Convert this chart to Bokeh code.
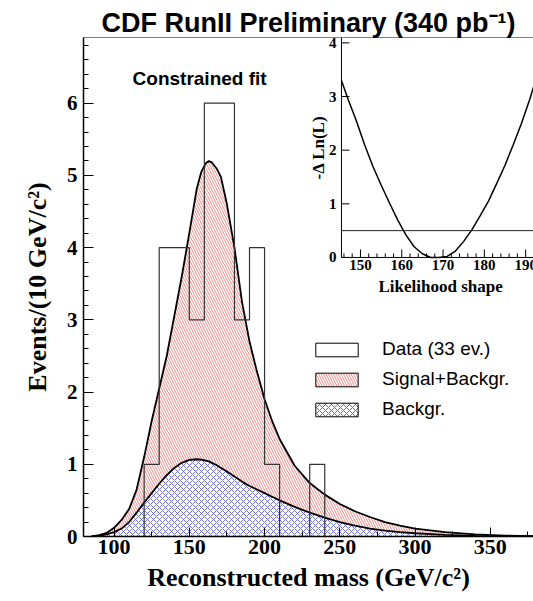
import math
from bokeh.plotting import figure
from bokeh.models import (Range1d, SingleIntervalTicker, Span, Label, Legend,
                          LegendItem)
from bokeh.embed import file_html
from bokeh.resources import INLINE

# ---------------- data ----------------
bin_edges = [120, 130, 140, 150, 160, 170, 180, 190, 200, 210, 220, 230, 240]
data_counts = [1, 4, 4, 3, 6, 6, 3, 4, 1, 0, 0, 1]

mass = [85, 90, 95, 100, 105, 110, 115, 120, 125, 130, 135, 140, 145, 150, 155,
        158, 161, 163, 165, 168, 171, 175, 180, 185, 190, 195, 200, 205, 210,
        220, 230, 240, 250, 260, 270, 280, 290, 300, 320, 340, 360, 380]
sig_bkg = [0.0, 0.02, 0.05, 0.12, 0.23, 0.38, 0.65, 1.1, 1.6, 2.05, 2.5, 3.05,
           3.6, 4.2, 4.82, 5.05, 5.17, 5.2, 5.18, 5.1, 4.98, 4.6, 4.0, 3.25,
           2.7, 2.28, 1.9, 1.6, 1.35, 0.98, 0.74, 0.58, 0.45, 0.35, 0.27, 0.2,
           0.15, 0.11, 0.06, 0.03, 0.012, 0.004]
bkg = [0.0, 0.01, 0.03, 0.06, 0.11, 0.2, 0.33, 0.47, 0.6, 0.73, 0.85, 0.95,
       1.02, 1.06, 1.07, 1.065, 1.05, 1.04, 1.02, 0.99, 0.95, 0.9, 0.83, 0.76,
       0.7, 0.65, 0.6, 0.55, 0.5, 0.41, 0.33, 0.26, 0.2, 0.15, 0.11, 0.08,
       0.06, 0.045, 0.022, 0.01, 0.004, 0.002]

lik_mass = [145.4, 147, 149, 151, 153, 155, 157, 159, 161, 163, 165, 167, 169,
            171, 173, 175, 177, 179, 181, 183, 185, 187, 189, 191, 192]
lik_dlnl = [3.3, 2.95, 2.55, 2.1, 1.7, 1.35, 1.02, 0.7, 0.42, 0.2, 0.07, 0.0,
            0.0, 0.02, 0.12, 0.3, 0.52, 0.78, 1.05, 1.38, 1.72, 2.1, 2.5,
            2.95, 3.2]
lik_level = 0.5
lik_xticks = [150, 160, 170, 180, 190]
lik_xminor = [146, 148, 152, 154, 156, 158, 162, 164, 166, 168, 172, 174, 176,
              178, 182, 184, 186, 188]
lik_yticks = [0, 1, 2, 3, 4]

SERIF = "Liberation Serif"
SANS = "Liberation Sans"
XMIN, XMAX = 79.7, 378.7
YMAX = 6.91
# inset ranges (own units) and where they sit in the main plot's units
LX0, LX1, LY0, LY1 = 145.4, 191.9, 0.0, 4.1
TX0, TX1, TY0, TY1 = 251.1, 378.7, 3.864, 6.91

PINK = "#ee8a8a"
BLUE = "#6464e0"

# ---------------- main figure ----------------
p = figure(width=533, height=601, x_range=Range1d(XMIN, XMAX),
           y_range=Range1d(0, YMAX), output_backend="svg",
           toolbar_location=None, min_border_left=83, min_border_right=0,
           min_border_top=37, min_border_bottom=65)
p.grid.visible = False
p.outline_line_color = None
p.background_fill_color = "white"
p.border_fill_color = "white"

p.title.text = "CDF RunII Preliminary (340 pb⁻¹)"
p.title.align = "center"
p.title.text_font = SANS
p.title.text_font_style = "bold"
p.title.text_font_size = "27px"
p.title.text_color = "black"
p.title.standoff = 0
p.title.offset = 0

# filled regions
p.varea(x=mass, y1=bkg, y2=sig_bkg, fill_color=None, fill_alpha=0,
        hatch_pattern="\\", hatch_color=PINK, hatch_scale=5, hatch_weight=1)
p.varea(x=mass, y1=[0] * len(mass), y2=bkg, fill_color=None, fill_alpha=0,
        hatch_pattern="x", hatch_color=BLUE, hatch_scale=6, hatch_weight=1,
        hatch_alpha=0.9)
p.line(mass, sig_bkg, line_color="black", line_width=1.8)
p.line(mass, bkg, line_color="black", line_width=1.8)

# data histogram outline
step_x = [bin_edges[0]] + bin_edges
step_y = [0] + data_counts + [0]
p.step(step_x, step_y, mode="after", line_color="#333333", line_width=1.2)

# top frame line
p.add_layout(Span(location=YMAX, dimension="width", line_color="black",
                  line_width=1.2))

# axes
for ax in (p.xaxis[0], p.yaxis[0]):
    ax.axis_line_width = 1.5
    ax.major_tick_out = 0
    ax.minor_tick_out = 0
    ax.major_label_text_font = SERIF
    ax.major_label_text_font_style = "bold"
    ax.major_label_text_color = "black"
    ax.axis_label_text_font = SERIF
    ax.axis_label_text_font_style = "bold"
    ax.axis_label_text_font_size = "26px"
    ax.axis_label_text_color = "black"

p.xaxis.ticker = SingleIntervalTicker(interval=50, num_minor_ticks=2)
p.xaxis.major_tick_in = 9
p.xaxis.minor_tick_in = 5
p.xaxis.major_label_text_font_size = "22px"
p.xaxis.major_label_standoff = 3
p.xaxis.axis_label = "Reconstructed mass (GeV/c²)"
p.xaxis.axis_label_standoff = 6

p.yaxis.ticker = SingleIntervalTicker(interval=1, num_minor_ticks=5)
p.yaxis.major_tick_in = 10
p.yaxis.minor_tick_in = 5
p.yaxis.major_label_text_font_size = "21px"
p.yaxis.major_label_standoff = 6
p.yaxis.axis_label = "Events/(10 GeV/c²)"
p.yaxis.axis_label_standoff = 12

p.add_layout(Label(x=112.3, y=6.34, text="Constrained fit", text_font=SANS,
                   text_font_style="bold", text_font_size="19px",
                   text_align="left", text_baseline="alphabetic",
                   text_color="black"))

# legend (proxy glyphs, hidden on the plot)
hl = bin_edges[:-1]
hr = bin_edges[1:]
hb = [0] * len(data_counts)
r_data = p.quad(left=hl, right=hr, top=data_counts, bottom=hb,
                fill_color="white", line_color="black", line_width=1)
r_sig = p.quad(left=hl, right=hr, top=data_counts, bottom=hb,
               fill_color="white", hatch_pattern="\\", hatch_color=PINK,
               hatch_scale=5, hatch_weight=1, line_color="black", line_width=1)
r_bkg = p.quad(left=hl, right=hr, top=data_counts, bottom=hb,
               fill_color="white", hatch_pattern="x", hatch_color=BLUE,
               hatch_scale=6, hatch_weight=1, line_color="black", line_width=1)
for r in (r_data, r_sig, r_bkg):
    r.visible = False
legend = Legend(items=[LegendItem(label="Data (33 ev.)", renderers=[r_data]),
                       LegendItem(label="Signal+Backgr.", renderers=[r_sig]),
                       LegendItem(label="Backgr.", renderers=[r_bkg])],
                location=(227, 116), glyph_width=53, glyph_height=17,
                label_height=17, spacing=8, padding=0, margin=0,
                label_standoff=19, label_text_font=SANS,
                label_text_font_size="19px", label_text_color="black",
                border_line_color=None, background_fill_alpha=0,
                inactive_fill_alpha=0)
p.add_layout(legend)

# ---------------- inset (sub-coordinates inside the main frame) ----------
ins = p.subplot(x_source=Range1d(LX0, LX1), y_source=Range1d(LY0, LY1),
                x_target=Range1d(TX0, TX1), y_target=Range1d(TY0, TY1))

ins.line(lik_mass, lik_dlnl, line_color="black", line_width=1.5)
ins.segment(x0=[LX0], y0=[lik_level], x1=[LX1], y1=[lik_level],
            line_color="#222222", line_width=1)
# inset axis lines
ins.segment(x0=[LX0, LX0], y0=[LY0, LY0], x1=[LX1, LX0], y1=[LY0, LY1],
            line_color="black", line_width=1)
# ticks (inward)
ins.ray(x=lik_xticks, y=[LY0] * len(lik_xticks), length=8,
        length_units="screen", angle=math.pi / 2, line_color="black",
        line_width=1)
ins.ray(x=lik_xminor, y=[LY0] * len(lik_xminor), length=4,
        length_units="screen", angle=math.pi / 2, line_color="black",
        line_width=1)
ins.ray(x=[LX0] * len(lik_yticks), y=lik_yticks, length=8,
        length_units="screen", angle=0, line_color="black", line_width=1)
# tick labels
ins.text(x=lik_xticks, y=[LY0] * len(lik_xticks),
         text=[str(t) for t in lik_xticks], text_align="center",
         text_baseline="top", y_offset=3, text_font=SERIF,
         text_font_style="bold", text_font_size="15px", text_color="black")
ins.text(x=[LX0] * len(lik_yticks), y=lik_yticks,
         text=[str(t) for t in lik_yticks], text_align="right",
         text_baseline="middle", x_offset=-5, text_font=SERIF,
         text_font_style="bold", text_font_size="15px", text_color="black")
# axis labels
ins.text(x=[169.4], y=[LY0], text=["Likelihood shape"], text_align="center",
         text_baseline="top", y_offset=20, text_font=SERIF,
         text_font_style="bold", text_font_size="17px", text_color="black")
ins.text(x=[LX0], y=[(LY0 + LY1) / 2], text=["-Δ Ln(L)"],
         text_align="center", text_baseline="middle", x_offset=-23,
         angle=math.pi / 2, text_font=SERIF, text_font_style="bold",
         text_font_size="17px", text_color="black")

open("out.html", "w").write(file_html(p, INLINE))
